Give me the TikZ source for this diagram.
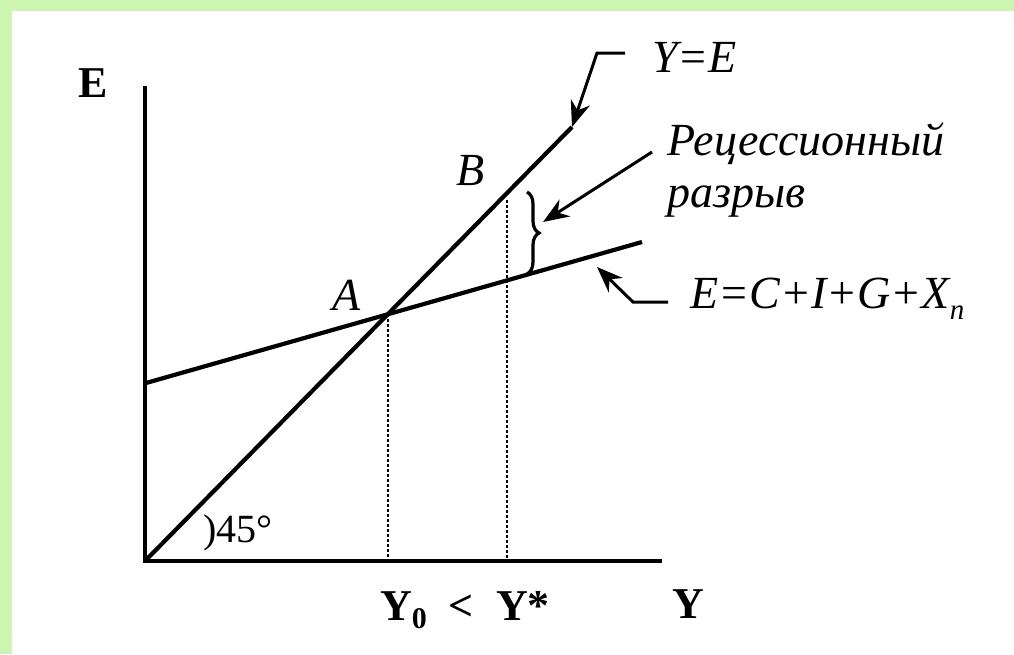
\documentclass[tikz,border=0pt]{standalone}
\usepackage{fontspec}
\setmainfont{Liberation Serif}
\usetikzlibrary{arrows.meta,decorations.pathreplacing}
\definecolor{bordergreen}{RGB}{204,246,176}
\begin{document}
\begin{tikzpicture}[x=1pt,y=-1pt,
  axisline/.style={line width=4.5pt},
  curve/.style={line width=4.2pt},
  lbl/.style={font=\fontsize{46}{53}\selectfont\itshape, inner sep=0pt},
  axlbl/.style={font=\fontsize{44}{53}\selectfont\bfseries, inner sep=0pt},
  ptr/.style={line width=3pt, -{Stealth[length=26pt,width=20pt]}},
  guide/.style={line width=1.3pt, dash pattern=on 3pt off 2pt},
  bracestyle/.style={line width=3.2pt, decorate, decoration={brace, amplitude=12pt}}]
\fill[white] (0,0) rectangle (1014,654);
\fill[bordergreen] (0,0) rectangle (12,654);
\fill[bordergreen] (0,0) rectangle (1014,11);
\useasboundingbox (0,0) rectangle (1014,654);

% axes
\coordinate (O) at (145,561);
\coordinate (Etop) at (145,86);
\coordinate (Yend) at (662,561);
\draw[axisline] (Etop) -- (O) -- (Yend);

% lines
\coordinate (A) at (388,314);
\coordinate (L1) at (572,127);
\coordinate (C0) at (146,383);
\coordinate (C1) at (642,242);
\draw[curve] (O) -- (L1);
\draw[curve] (C0) -- (C1);

% guides
\coordinate (A0) at (388,561);
\coordinate (S1) at (507,200);
\coordinate (S0) at (507,561);
\draw[guide] (A) -- (A0);
\draw[guide] (S1) -- (S0);

% brace
\coordinate (Btop) at (527,192);
\coordinate (Bbot) at (527,274);
\draw[bracestyle] (Btop) -- (Bbot);

% pointer arrows
\coordinate (P1s) at (652,152);
\coordinate (P1e) at (543,222);
\draw[ptr] (P1s) -- (P1e);
\coordinate (P2s) at (625,53);
\coordinate (P2m) at (597,53);
\draw[ptr] (P2s) -- (P2m) -- (L1);
\coordinate (P3s) at (668,302);
\coordinate (P3m) at (633,302);
\coordinate (P3e) at (597,267);
\draw[ptr] (P3s) -- (P3m) -- (P3e);

% labels
\node[lbl] (lA) at (347,295) {A};
\node[lbl] (lB) at (471,171) {B};
\node[lbl, anchor=base west] (lYE) at (652,72) {Y=E};
\node[lbl, anchor=base west] (lRec1) at (667,155) {Рецессионный};
\node[lbl, anchor=base west] (lRec2) at (667,207) {разрыв};
\node[lbl, anchor=base west] (lEq) at (690,308) {E=C+I+G+X\raisebox{-0.25em}{\fontsize{29}{29}\selectfont n}};
\node[anchor=base west, inner sep=0pt, font=\fontsize{40}{44}\selectfont] (l45) at (203,542) {)45°};
\node[axlbl] (lE) at (93,83) {E};
\node[axlbl] (lY) at (688,604) {Y};
\node[axlbl, anchor=base west] (lY0) at (380,620) {Y\raisebox{-8pt}{\fontsize{30}{30}\selectfont 0}\hspace{22pt}<\hspace{22pt}Y*};
\end{tikzpicture}
\end{document}
